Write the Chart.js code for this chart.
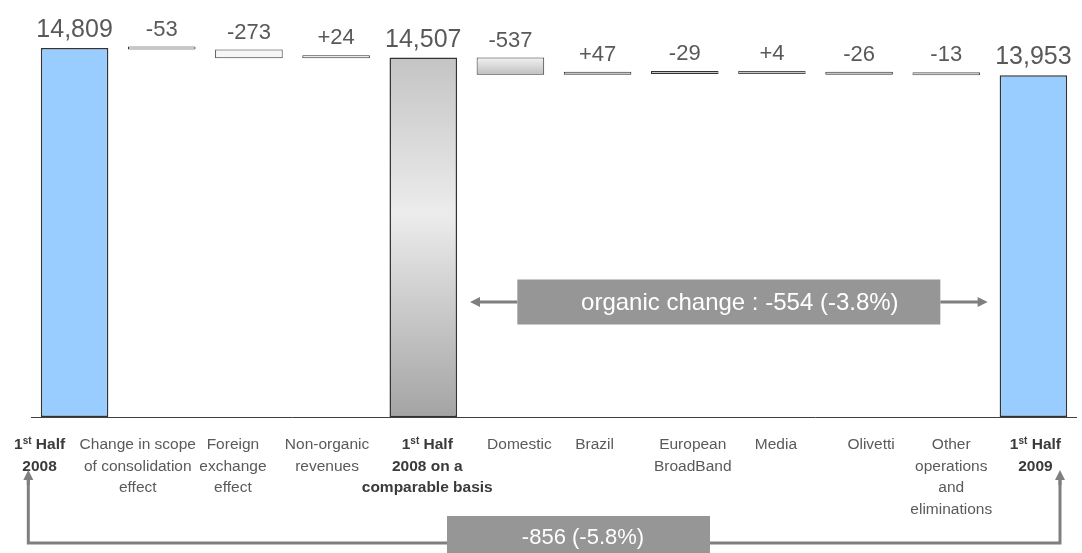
<!DOCTYPE html>
<html>
<head>
<meta charset="utf-8">
<script src="https://cdn.jsdelivr.net/npm/chart.js@4.4.1/dist/chart.umd.min.js"></script>
<style>
  html, body { margin: 0; padding: 0; background: #fff; }
  #wrap { width: 1082px; height: 553px; position: relative; }
</style>
</head>
<body>
<div id="wrap"><canvas id="bridge"></canvas></div>
<script>
// categories, one array of lines per bar
var categories = [
    ['1st Half', '2008'],
    ['Change in scope', 'of consolidation', 'effect'],
    ['Foreign', 'exchange', 'effect'],
    ['Non-organic', 'revenues'],
    ['1st Half', '2008 on a', 'comparable basis'],
    ['Domestic'],
    ['Brazil'],
    ['European', 'BroadBand'],
    ['Media'],
    ['Olivetti'],
    ['Other', 'operations', 'and', 'eliminations'],
    ['1st Half', '2009']
];
// totals (null = a change bar) and changes (null = a total bar)
var totals = [14809, null, null, null, 14507, null, null, null, null, null, null, 13953];
var changes = [null, -53, -273, 24, null, -537, 47, -29, 4, -26, -13, null];
var boldLabel = [true, false, false, false, true, false, false, false, false, false, false, true];
var axisMin = 3220, axisMax = 16000;

// layout only: the category text boxes in the original sit a little off their bars
var labelShift = [-35, -24, -16, -9, 4, 9, -3, 8, 4, 12, 5, 2];

// floating bars built from the arrays above
var ranges = [];
var running = 0;
for (var i = 0; i < categories.length; i++) {
    if (totals[i] !== null) {
        running = totals[i];
        ranges.push([axisMin, totals[i]]);
    } else {
        ranges.push([running, running + changes[i]]);
        running += changes[i];
    }
}

var FONT = "'Liberation Sans', Arial, sans-serif";

function fmtTotal(v) {
    return v.toString().replace(/\B(?=(\d{3})+(?!\d))/g, ',');
}
function fmtChange(v) {
    return (v > 0 ? '+' : '') + v;
}

function barFill(context) {
    var chart = context.chart;
    var i = context.dataIndex;
    var area = chart.chartArea;
    if (!area) return '#ccc';
    var ctx = chart.ctx;
    if (i === 0 || i === 11) return '#99ccff';
    if (i === 4) {
        var g = ctx.createLinearGradient(0, area.top, 0, area.bottom);
        g.addColorStop(0, '#b8b8b8');
        g.addColorStop(0.5, '#ececec');
        g.addColorStop(1, '#a4a4a4');
        return g;
    }
    var y = chart.scales.y;
    var g2 = ctx.createLinearGradient(0, y.getPixelForValue(14550), 0, y.getPixelForValue(13950));
    g2.addColorStop(0, '#f6f6f6');
    g2.addColorStop(1, '#bdbdbd');
    return g2;
}

function drawArrow(ctx, x1, y1, x2, y2, color) {
    var ang = Math.atan2(y2 - y1, x2 - x1);
    var head = 10;
    ctx.save();
    ctx.strokeStyle = color;
    ctx.fillStyle = color;
    ctx.lineWidth = 3;
    ctx.beginPath();
    ctx.moveTo(x1, y1);
    ctx.lineTo(x2 - Math.cos(ang) * head * 0.8, y2 - Math.sin(ang) * head * 0.8);
    ctx.stroke();
    ctx.beginPath();
    ctx.moveTo(x2, y2);
    ctx.lineTo(x2 - head * Math.cos(ang) + 5 * Math.sin(ang), y2 - head * Math.sin(ang) - 5 * Math.cos(ang));
    ctx.lineTo(x2 - head * Math.cos(ang) - 5 * Math.sin(ang), y2 - head * Math.sin(ang) + 5 * Math.cos(ang));
    ctx.closePath();
    ctx.fill();
    ctx.restore();
}

var bridgeLabels = {
    id: 'bridgeLabels',
    afterDatasetsDraw: function (chart) {
        var ctx = chart.ctx;
        var area = chart.chartArea;
        var meta = chart.getDatasetMeta(0);

        // axis line
        ctx.save();
        ctx.strokeStyle = '#404040';
        ctx.lineWidth = 1;
        ctx.beginPath();
        ctx.moveTo(area.left, Math.round(area.bottom) + 0.5);
        ctx.lineTo(area.right, Math.round(area.bottom) + 0.5);
        ctx.stroke();

        // value labels over each bar
        ctx.fillStyle = '#595959';
        ctx.textAlign = 'center';
        ctx.textBaseline = 'alphabetic';
        meta.data.forEach(function (bar, i) {
            var top = Math.min(bar.y, bar.base);
            var txt, size;
            if (totals[i] !== null) { txt = fmtTotal(totals[i]); size = 25; }
            else { txt = fmtChange(changes[i]); size = 22; }
            ctx.font = size + 'px ' + FONT;
            ctx.fillText(txt, bar.x, top - 11);
        });

        // category labels
        var xs = chart.scales.x;
        categories.forEach(function (lines, i) {
            var x = xs.getPixelForValue(i) + labelShift[i];
            lines.forEach(function (line, k) {
                var y = area.bottom + 32 + k * 21.5;
                if (boldLabel[i]) {
                    ctx.fillStyle = '#3a3a3a';
                    if (line.indexOf('1st') === 0) {
                        var rest = line.slice(3);
                        ctx.font = 'bold 15.5px ' + FONT;
                        var w1 = ctx.measureText('1').width;
                        var w3 = ctx.measureText(rest).width;
                        ctx.font = 'bold 10px ' + FONT;
                        var w2 = ctx.measureText('st').width;
                        var start = x - (w1 + w2 + w3) / 2;
                        ctx.textAlign = 'left';
                        ctx.font = 'bold 15.5px ' + FONT;
                        ctx.fillText('1', start, y);
                        ctx.fillText(rest, start + w1 + w2, y);
                        ctx.font = 'bold 10px ' + FONT;
                        ctx.fillText('st', start + w1, y - 5);
                        ctx.textAlign = 'center';
                        return;
                    }
                    ctx.font = 'bold 15.5px ' + FONT;
                } else {
                    ctx.fillStyle = '#5a5a5a';
                    ctx.font = '15.5px ' + FONT;
                }
                ctx.fillText(line, x, y);
            });
        });

        // organic change annotation between bar 4 and bar 11
        var b4 = meta.data[4], b11 = meta.data[11];
        var leftX = b4.x + b4.width / 2 + 13;
        var rightX = b11.x - b11.width / 2 - 12;
        var midY = 302;
        var boxW = 423, boxH = 45;
        var cx = (leftX + rightX) / 2;
        drawArrow(ctx, cx - boxW / 2, midY, leftX, midY, '#7f7f7f');
        drawArrow(ctx, cx + boxW / 2, midY, rightX, midY, '#7f7f7f');
        ctx.fillStyle = '#969696';
        ctx.fillRect(cx - boxW / 2, midY - boxH / 2, boxW, boxH);
        ctx.fillStyle = '#ffffff';
        ctx.font = '24px ' + FONT;
        ctx.textBaseline = 'middle';
        ctx.fillText('organic change : -554 (-3.8%)', cx + 11, midY + 1);

        // overall change annotation along the bottom
        var b0 = meta.data[0];
        var lx = b0.x - b0.width / 2 - 13;
        var rx = 1060;
        var by = 543;
        ctx.strokeStyle = '#7f7f7f';
        ctx.lineWidth = 3;
        ctx.beginPath();
        ctx.moveTo(lx + 0.5, 480);
        ctx.lineTo(lx + 0.5, by);
        ctx.lineTo(rx, by);
        ctx.lineTo(rx, 480);
        ctx.stroke();
        drawArrow(ctx, lx + 0.5, 485, lx + 0.5, 470, '#7f7f7f');
        drawArrow(ctx, rx, 485, rx, 470, '#7f7f7f');
        ctx.fillStyle = '#969696';
        ctx.fillRect(447, 516, 263, 40);
        ctx.fillStyle = '#ffffff';
        ctx.font = '22px ' + FONT;
        ctx.fillText('-856 (-5.8%)', 583, 538);
        ctx.restore();
    }
};

var ctx = document.getElementById('bridge').getContext('2d');
var bridgeChart = new Chart(ctx, {
    type: 'bar',
    data: {
        labels: categories,
        datasets: [{
            data: ranges,
            backgroundColor: barFill,
            borderColor: function (c) {
                var i = c.dataIndex;
                if (i === 8 || i === 10) return '#555555';
                return '#333333';
            },
            borderWidth: function (c) {
                return totals[c.dataIndex] !== null ? 1.5 : 1;
            },
            borderSkipped: false,
            minBarLength: 3,
            barPercentage: 0.775,
            categoryPercentage: 1
        }]
    },
    options: {
        responsive: true,
        maintainAspectRatio: false,
        animation: false,
        layout: { padding: { left: 31, right: 5, top: 10, bottom: 136 } },
        plugins: {
            legend: { display: false },
            tooltip: { enabled: false }
        },
        scales: {
            x: { display: false },
            y: { display: false, min: axisMin, max: axisMax }
        }
    },
    plugins: [bridgeLabels]
});
</script>
</body>
</html>
